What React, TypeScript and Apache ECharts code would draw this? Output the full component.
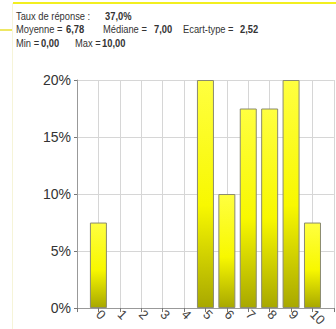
import React, { useEffect, useRef } from "react";
import * as echarts from "echarts";

const categories = [0, 1, 2, 3, 4, 5, 6, 7, 8, 9, 10];
const percentages = [7.5, 0, 0, 0, 0, 20, 10, 17.5, 17.5, 20, 7.5];
const yTicks = [0, 5, 10, 15, 20];
const statsLine1 = [{ label: "Taux de réponse :", value: "37,0%" }];
const statsLine2 = [
  { label: "Moyenne =", value: "6,78" },
  { label: "Médiane =", value: "7,00" },
  { label: "Ecart-type =", value: "2,52" },
];
const statsLine3 = [
  { label: "Min =", value: "0,00" },
  { label: "Max =", value: "10,00" },
];

export default function App() {
  const ref = useRef<HTMLDivElement>(null);
  useEffect(() => {
    if (!ref.current) return;
    const chart = echarts.init(ref.current, null, { renderer: "svg" });
    const font = "'Liberation Sans', Arial, sans-serif";
    const txt = (x: number, y: number, text: string, bold = false) => ({
      type: "text",
      x,
      y,
      scaleX: 0.85,
      style: {
        text,
        fill: "#333",
        font: `${bold ? "bold " : ""}11px ${font}`,
        textVerticalAlign: "middle",
      },
      z: 10,
    });
    const line1Pos = [[16, 105]];
    const line2Pos = [[16, 66], [103, 154], [183, 240]];
    const line3Pos = [[16, 41], [75, 102]];
    const headers: any[] = [];
    statsLine1.forEach((s, i) => {
      headers.push(txt(line1Pos[i][0], 16, s.label));
      headers.push(txt(line1Pos[i][1], 16, s.value, true));
    });
    statsLine2.forEach((s, i) => {
      headers.push(txt(line2Pos[i][0], 29, s.label));
      headers.push(txt(line2Pos[i][1], 29, s.value, true));
    });
    statsLine3.forEach((s, i) => {
      headers.push(txt(line3Pos[i][0], 43, s.label));
      headers.push(txt(line3Pos[i][1], 43, s.value, true));
    });

    chart.setOption({
      animation: false,
      backgroundColor: "#fff",
      grid: { left: 77, right: 0, top: 80, bottom: 16, containLabel: false },
      xAxis: {
        type: "value",
        min: -1,
        max: 11,
        interval: 1,
        axisLine: { show: true, onZero: false, lineStyle: { color: "#999" } },
        axisTick: { show: true, length: 4, lineStyle: { color: "#777" } },
        splitLine: { show: true, lineStyle: { color: "#d6d6d6" } },
        axisLabel: {
          rotate: -45,
          margin: 4,
          fontSize: 13,
          color: "#444",
          fontFamily: font,
          formatter: (v: number) => (categories.includes(v) ? String(v) : ""),
        },
      },
      yAxis: {
        type: "value",
        min: yTicks[0],
        max: yTicks[yTicks.length - 1],
        interval: 5,
        axisLine: { show: true, onZero: false, lineStyle: { color: "#999" } },
        axisTick: { show: true, length: 3, lineStyle: { color: "#777" } },
        splitLine: { show: true, lineStyle: { color: "#d6d6d6" } },
        axisLabel: {
          margin: 6,
          fontSize: 14,
          color: "#333",
          fontFamily: font,
          formatter: (v: number) => `${v}%`,
        },
      },
      series: [
        {
          type: "bar",
          barWidth: 17,
          data: categories.map((c, i) => [c, percentages[i] > 0 ? percentages[i] : null]),
          itemStyle: {
            borderColor: "#8a8a70",
            borderWidth: 1,
            color: new echarts.graphic.LinearGradient(0, 0, 0, 1, [
              { offset: 0, color: "#ffff40" },
              { offset: 0.55, color: "#f8f800" },
              { offset: 1, color: "#a8a800" },
            ]),
          },
        },
      ],
      graphic: [
        {
          type: "line",
          shape: { x1: 13, y1: 3, x2: 336, y2: 3 },
          style: { stroke: "#f2ef20", lineWidth: 2 },
        },
        {
          type: "line",
          shape: { x1: 12.5, y1: 3, x2: 12.5, y2: 329 },
          style: { stroke: "#f6f4d8", lineWidth: 1 },
        },
        {
          type: "line",
          shape: { x1: 0, y1: 30, x2: 12, y2: 30 },
          style: { stroke: "#e8df30", lineWidth: 1.5 },
        },
        ...headers,
      ],
    });
    return () => chart.dispose();
  }, []);
  return (
    <div
      ref={ref}
      style={{ position: "fixed", left: 0, top: 0, width: 336, height: 329 }}
    />
  );
}
